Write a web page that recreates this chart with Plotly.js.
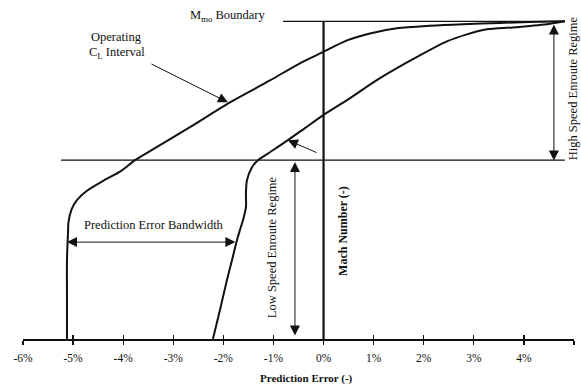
<!DOCTYPE html>
<html><head><meta charset="utf-8">
<script src="https://cdn.plot.ly/plotly-3.0.1.min.js"></script>
<style>html,body{margin:0;padding:0;background:#fff}#chart{width:581px;height:384px}</style>
</head><body><div id="chart"></div>
<script>
// Tick values / labels (prediction error, %)
const tickValues = [-6,-5,-4,-3,-2,-1,0,1,2,3,4,5];
const tickLabels = ['-6%','-5%','-4%','-3%','-2%','-1%','0%','1%','2%','3%','4%','5%'];

// Left boundary of operating CL interval (error %, normalised Mach)
const leftError = [-5.122,-5.122,-5.122,-5.102,-5.090,-5.030,-4.920,-4.730,-4.400,-4.040,-3.764,-3.365,-2.667,-1.868,-1.070,-0.471,-0.012,0.467,0.926,1.465,2.124,2.782,3.521,4.120,4.818];
const leftMach  = [0,0.123,0.248,0.333,0.370,0.408,0.438,0.466,0.498,0.529,0.563,0.601,0.667,0.745,0.814,0.868,0.903,0.940,0.962,0.978,0.986,0.991,0.995,0.998,1.0];

// Right boundary of operating CL interval
const rightError = [-2.208,-2.068,-1.928,-1.828,-1.729,-1.669,-1.609,-1.549,-1.549,-1.529,-1.429,-1.309,-1.070,-0.711,-0.371,-0.012,0.467,1.126,1.784,2.463,2.862,3.261,3.780,4.459,4.818];
const rightMach  = [0,0.091,0.186,0.248,0.311,0.343,0.374,0.415,0.459,0.500,0.541,0.563,0.588,0.626,0.664,0.704,0.752,0.821,0.881,0.937,0.959,0.975,0.981,0.991,1.0];

// Boundaries
const mmoBoundary = 1.0;
const regimeSplit = 0.563;
const mmoLineX = [-0.81, 4.818];
const splitLineX = [-5.242, 4.818];
const machAxisX = [0, 0];
const machAxisY = [0, mmoBoundary];

const serif = 'Liberation Serif, Times New Roman, serif';
const ink = '#111';

const traces = [
  {x: leftError, y: leftMach, mode:'lines', line:{color:ink, width:2, shape:'spline', smoothing:0.8}, hoverinfo:'skip'},
  {x: rightError, y: rightMach, mode:'lines', line:{color:ink, width:2, shape:'spline', smoothing:0.8}, hoverinfo:'skip'},
  {x: mmoLineX, y: [mmoBoundary, mmoBoundary], mode:'lines', line:{color:ink, width:1.3}, hoverinfo:'skip'},
  {x: splitLineX, y: [regimeSplit, regimeSplit], mode:'lines', line:{color:ink, width:1.2}, hoverinfo:'skip'},
  {x: machAxisX, y: machAxisY, mode:'lines', line:{color:ink, width:2.2}, hoverinfo:'skip'},
  // invisible trace so the inside-tick overlay axis is drawn
  {x: [tickValues[0]], y: [0], xaxis:'x2', yaxis:'y', mode:'markers', marker:{opacity:0}, hoverinfo:'skip'}
];

function arrow(x, y, ax, ay, both) {
  return {x:x, y:y, ax:ax, ay:ay, xref:'x', yref:'y', axref:'x', ayref:'y', text:'',
    showarrow:true, arrowhead:2, arrowsize:2, arrowwidth:1, arrowcolor:ink,
    arrowside: both ? 'end+start' : 'end', startarrowhead:2, startarrowsize:2,
    standoff:0, startstandoff:0};
}
function label(x, y, text, opts) {
  return Object.assign({x:x, y:y, xref:'x', yref:'y', text:text, showarrow:false,
    font:{family:serif, size:12.5, color:ink}, xanchor:'center', yanchor:'middle'}, opts || {});
}

const annotations = [
  arrow(-5.122, 0.305, -1.73, 0.305, true),             // prediction error bandwidth
  arrow(-0.571, 0.557, -0.571, 0.006, true),            // low speed regime
  arrow(4.599, 0.99, 4.599, 0.557, true),               // high speed regime
  arrow(-0.711, 0.626, -0.112, 0.585, false),           // pointer to right curve
  arrow(-1.908, 0.745, -3.465, 0.868, false),           // operating CL interval
  label(-1.908, 1.017, 'M<sub>mo</sub> Boundary'),
  label(-4.124, 0.950, 'Operating'),
  label(-4.124, 0.899, 'C<sub>L</sub> Interval'),
  label(-3.385, 0.358, 'Prediction Error Bandwidth'),
  label(-1.030, 0.289, 'Low Speed Enroute Regime', {textangle:-90}),
  label(0.387, 0.340, '<b>Mach Number (-)</b>', {textangle:-90, font:{family:serif, size:12, color:ink}}),
  label(4.978, 0.789, 'High Speed Enroute Regime', {textangle:-90}),
  label(-0.331, -0.1206, '<b>Prediction Error (-)</b>', {yref:'paper', font:{family:serif, size:11, color:ink}})
];

const layout = {
  width:581, height:384,
  margin:{l:23, r:7, t:15, b:45},
  paper_bgcolor:'#fff', plot_bgcolor:'#fff',
  showlegend:false,
  font:{family:serif, size:11, color:ink},
  xaxis:{range:[-6,5], tickvals:tickValues, ticktext:tickLabels, ticks:'outside', ticklen:4, tickwidth:1.3,
    tickcolor:ink, showline:true, linecolor:ink, linewidth:1.6, showgrid:false, zeroline:false,
    ticklabelstandoff:4, tickfont:{family:serif, size:11.5, color:ink}},
  xaxis2:{range:[-6,5], overlaying:'x', anchor:'y', side:'bottom', tickvals:tickValues, ticks:'inside', ticklen:4,
    tickwidth:1.3, tickcolor:ink, showticklabels:false, showline:false, showgrid:false, zeroline:false},
  yaxis:{range:[0,1.02], visible:false, showgrid:false, zeroline:false},
  annotations: annotations
};

Plotly.newPlot('chart', traces, layout, {staticPlot:true, displayModeBar:false});
</script></body></html>
